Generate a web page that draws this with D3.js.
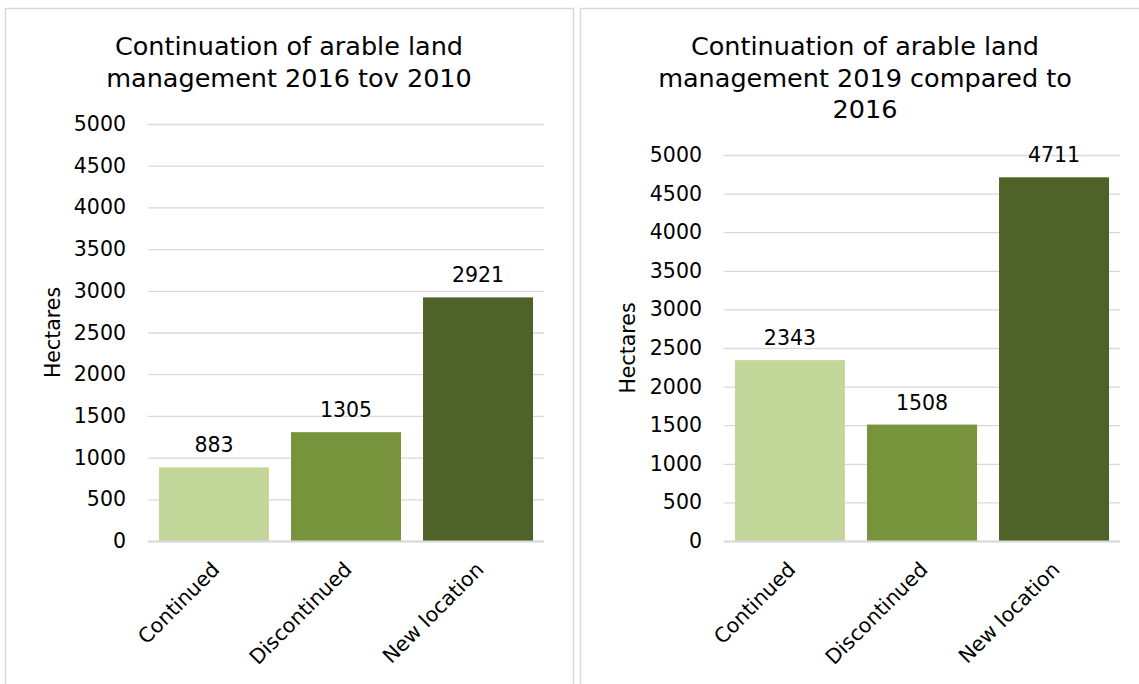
<!DOCTYPE html>
<html>
<head>
<meta charset="utf-8">
<script src="https://cdn.jsdelivr.net/npm/d3@7"></script>
<style>
  html, body { margin: 0; padding: 0; background: #fff; }
  svg { display: block; font-family: "DejaVu Sans", Verdana, sans-serif; }
</style>
</head>
<body>
<svg id="chart" width="1139" height="684"></svg>
<script>
// Arable land management, hectares per category
const categories = ["Continued", "Discontinued", "New location"];
const values2016vs2010 = [883, 1305, 2921];
const values2019vs2016 = [2343, 1508, 4711];
const barColors = ["#c4d79b", "#77933c", "#4f6228"];
const yTicks = [0, 500, 1000, 1500, 2000, 2500, 3000, 3500, 4000, 4500, 5000];
const title2016 = ["Continuation of arable land", "management 2016 tov 2010"];
const title2019 = ["Continuation of arable land", "management 2019 compared to", "2016"];
const yAxisLabel = "Hectares";

const FONT = "DejaVu Sans, Verdana, sans-serif";
const LABEL_SIZE = 20.5;

const svg = d3.select("#chart");

// Panel frames
svg.append("rect").attr("x", 5.5).attr("y", 8.5).attr("width", 568).attr("height", 700)
  .attr("fill", "#fff").attr("stroke", "#d9d9d9").attr("stroke-width", 1.5);
svg.append("rect").attr("x", 580.5).attr("y", 8.5).attr("width", 600).attr("height", 700)
  .attr("fill", "#fff").attr("stroke", "#d9d9d9").attr("stroke-width", 1.5);

function drawPanel(cfg) {
  const g = svg.append("g");

  // Title
  const t = g.append("text")
    .attr("text-anchor", "middle")
    .attr("font-size", 25.5)
    .attr("fill", "#000");
  cfg.title.forEach((line, i) => {
    t.append("tspan").attr("x", cfg.titleX).attr("y", 55 + i * 31.5).text(line);
  });

  const x = d3.scaleBand().domain(categories).range([cfg.left, cfg.right]).paddingInner(0.167).paddingOuter(0.083);
  const y = d3.scaleLinear().domain([0, 5000]).range([cfg.bottom, cfg.top]);

  // Y axis with gridlines
  const yAxis = d3.axisLeft(y).tickValues(yTicks).tickFormat(d3.format("d"))
    .tickSize(-(cfg.right - cfg.left)).tickPadding(22);
  const ya = g.append("g").attr("transform", `translate(${cfg.left},0)`).call(yAxis);
  ya.select(".domain").remove();
  ya.selectAll(".tick line").attr("stroke", "#d9d9d9").attr("stroke-width", 1.3);
  ya.selectAll(".tick text").attr("font-size", LABEL_SIZE).attr("fill", "#000")
    .attr("font-family", FONT);

  // Bars
  g.selectAll("rect.bar").data(cfg.values).join("rect")
    .attr("class", "bar")
    .attr("x", (d, i) => x(categories[i]))
    .attr("y", d => y(d))
    .attr("width", x.bandwidth())
    .attr("height", d => y(0) - y(d))
    .attr("fill", (d, i) => barColors[i]);

  // Baseline
  g.append("line").attr("x1", cfg.left).attr("x2", cfg.right)
    .attr("y1", y(0) + 0.5).attr("y2", y(0) + 0.5)
    .attr("stroke", "#d9d9d9").attr("stroke-width", 2);

  // Value labels
  g.selectAll("text.val").data(cfg.values).join("text")
    .attr("class", "val")
    .attr("x", (d, i) => x(categories[i]) + x.bandwidth() / 2)
    .attr("y", d => y(d) - 15)
    .attr("text-anchor", "middle")
    .attr("font-size", LABEL_SIZE)
    .attr("fill", "#000")
    .text(d => d);

  // Category labels, rotated
  const xAxis = d3.axisBottom(x).tickSize(0).tickPadding(0);
  const xa = g.append("g").attr("transform", `translate(0,${cfg.bottom})`).call(xAxis);
  xa.select(".domain").remove();
  xa.selectAll(".tick text")
    .attr("font-size", LABEL_SIZE)
    .attr("fill", "#000")
    .attr("font-family", FONT)
    .attr("text-anchor", "end")
    .attr("transform", "translate(-4,19) rotate(-45)")
    .attr("dy", "0.75em")
    .attr("y", 0);

  // Axis title
  g.append("text")
    .attr("transform", `translate(${cfg.yLabelX},${(cfg.top + cfg.bottom) / 2}) rotate(-90)`)
    .attr("text-anchor", "middle")
    .attr("font-size", LABEL_SIZE)
    .attr("fill", "#000")
    .text(yAxisLabel);
}

drawPanel({ title: title2016, titleX: 289, values: values2016vs2010,
  left: 148, right: 544, top: 124, bottom: 541, yLabelX: 60 });
drawPanel({ title: title2019, titleX: 865, values: values2019vs2016,
  left: 724, right: 1120, top: 155, bottom: 541, yLabelX: 635 });
</script>
</body>
</html>
